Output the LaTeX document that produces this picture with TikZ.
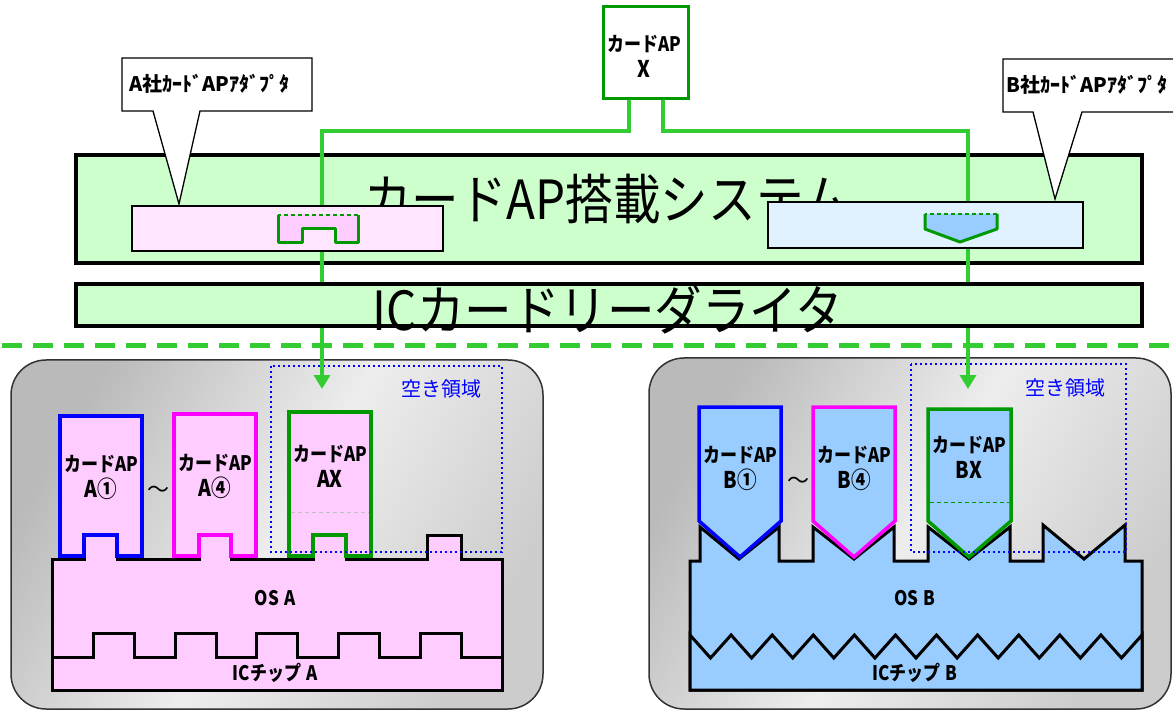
\documentclass[tikz,border=0pt]{standalone}
\usepackage{fontspec}
\newfontfamily\jp{Noto Sans CJK JP}
\newfontfamily\jpc{Noto Sans CJK JP}[FakeStretch=0.85]
\newfontfamily\jpt{Noto Sans CJK JP}[FakeStretch=0.88]
\newcommand\bigln[1]{{\fontsize{23}{26}\selectfont #1}}
\usetikzlibrary{arrows.meta}
\definecolor{sysgreen}{HTML}{CCFFCC}
\definecolor{lgreen}{HTML}{33CC33}
\definecolor{dgreen}{HTML}{009900}
\definecolor{pinkA}{HTML}{FFE5FF}
\definecolor{pinkC}{HTML}{FFCCFF}
\definecolor{blueA}{HTML}{E0F2FF}
\definecolor{blueC}{HTML}{99CCFF}
\definecolor{txtblue}{HTML}{0000FF}
\definecolor{magc}{HTML}{FF00FF}
\begin{document}
\begin{tikzpicture}[x=1pt,y=-1pt,font=\jp,
  sysbox/.style={draw=black,fill=sysgreen,line width=4pt,inner sep=0pt},
  adapter/.style={draw=black,line width=1.5pt,inner sep=0pt},
  callout/.style={draw=black,fill=white,line width=1.3pt,line join=miter},
  conn/.style={draw=lgreen,line width=4pt,-{Triangle[width=16pt,length=14pt]}},
  slotline/.style={draw=dgreen,line width=3pt,line join=round},
  slottop/.style={draw=dgreen,line width=1.2pt,dash pattern=on 4pt off 3pt},
  panel/.style={draw=black!80,line width=1.5pt,rounded corners=35pt,left color=black!27,right color=black!20,middle color=black!7,shading angle=60},
  cardline/.style={line width=3.5pt,line join=miter},
  osline/.style={draw=black,line width=3pt,line join=miter},
  boldtxt/.style={font=\jpc\bfseries\fontsize{20}{26}\selectfont,align=center,inner sep=0pt},
  bigtxt/.style={font=\jpt\fontsize{54}{54}\selectfont,inner sep=0pt},
  calltxt/.style={font=\jp\bfseries\fontsize{20}{20}\selectfont,anchor=west,inner sep=0pt},
  freetxt/.style={font=\jp\fontsize{20}{20}\selectfont,text=txtblue,inner sep=0pt},
  dotbox/.style={draw=txtblue,line width=2.4pt,dash pattern=on 2.4pt off 2.6pt}
]
\useasboundingbox (0,0) rectangle (1173,711);

% ---------- lower panels ----------
\shadedraw[panel] (11,360) rectangle (543,709);
\shadedraw[panel] (649,358) rectangle (1171,709);

% OS A and chip A
\filldraw[osline,fill=pinkC] (52,559) -- (84,559) -- (84,535) -- (117,535) -- (117,559)
  -- (199,559) -- (199,535) -- (231,535) -- (231,559) -- (313,559) -- (313,535) -- (346,535)
  -- (346,559) -- (427,559) -- (427,535) -- (461,535) -- (461,559) -- (502,559) -- (502,690)
  -- (52,690) -- cycle;
\filldraw[osline,fill=pinkC] (52,657) -- (93,657) -- (93,633) -- (134,633) -- (134,657)
  -- (175,657) -- (175,633) -- (216,633) -- (216,657) -- (256,657) -- (256,633) -- (297,633)
  -- (297,657) -- (338,657) -- (338,633) -- (379,633) -- (379,657) -- (420,657) -- (420,633)
  -- (461,633) -- (461,657) -- (502,657) -- (502,690) -- (52,690) -- cycle;
\node[boldtxt] (osA) at (275,598) {OS\hspace{5pt}A};
\node[boldtxt] (chipA) at (275,673) {ICチップ\hspace{5pt}A};

% cards A
\filldraw[cardline,draw=blue,fill=pinkC] (60,556) -- (60,416) -- (142,416) -- (142,556)
  -- (117,556) -- (117,535) -- (84,535) -- (84,556) -- cycle;
\node[boldtxt] (a1) at (101,477) {カードAP\\\bigln{A①}};
\filldraw[cardline,draw=magc,fill=pinkC] (174,556) -- (174,414) -- (256,414) -- (256,556)
  -- (231,556) -- (231,535) -- (199,535) -- (199,556) -- cycle;
\node[boldtxt] (a4) at (215,476) {カードAP\\\bigln{A④}};
\node[font=\jp\fontsize{22}{22}\selectfont,inner sep=0pt] (tildeA) at (158,492) {～};
\filldraw[cardline,draw=dgreen,fill=pinkC] (289,556) -- (289,412) -- (371,412) -- (371,556)
  -- (346,556) -- (346,535) -- (313,535) -- (313,556) -- cycle;
\draw[black!25,line width=0.8pt,dash pattern=on 4pt off 3pt] (291,512) -- (369,512);
\node[boldtxt] (ax) at (330,466) {カードAP\\\bigln{AX}};
\draw[dotbox] (271,366) rectangle (502,552);
\node[freetxt] (freeA) at (441,389) {空き領域};

% OS B and chip B
\filldraw[osline,fill=blueC] (690,561) -- (700,561) -- (700,527) -- (739,559) -- (779,527)
  -- (779,561) -- (813,561) -- (813,527) -- (854,559) -- (894,527) -- (894,561) -- (928,561)
  -- (928,527) -- (969,559) -- (1010,527) -- (1010,561) -- (1043,561) -- (1043,525)
  -- (1084,559) -- (1125,525) -- (1125,561) -- (1142,561) -- (1142,690) -- (690,690) -- cycle;
\filldraw[osline,fill=blueC] (690.0,635) -- (710.5,658) -- (731.1,635) -- (751.6,658)
  -- (772.2,635) -- (792.7,658) -- (813.3,635) -- (833.8,658) -- (854.4,635) -- (874.9,658)
  -- (895.5,635) -- (916.0,658) -- (936.5,635) -- (957.1,658) -- (977.6,635) -- (998.2,658)
  -- (1018.7,635) -- (1039.3,658) -- (1059.8,635) -- (1080.4,658) -- (1100.9,635)
  -- (1121.5,658) -- (1142.0,635) -- (1142,690) -- (690,690) -- cycle;
\node[boldtxt] (osB) at (915,598) {OS\hspace{5pt}B};
\node[boldtxt] (chipB) at (915,673) {ICチップ\hspace{5pt}B};

% cards B
\filldraw[cardline,draw=blue,fill=blueC] (699,521) -- (699,407) -- (781,407) -- (781,521)
  -- (740,557) -- cycle;
\node[boldtxt] (b1) at (740,468) {カードAP\\\bigln{B①}};
\filldraw[cardline,draw=magc,fill=blueC] (813,521) -- (813,407) -- (895,407) -- (895,521)
  -- (854,557) -- cycle;
\node[boldtxt] (b4) at (854,468) {カードAP\\\bigln{B④}};
\node[font=\jp\fontsize{22}{22}\selectfont,inner sep=0pt] (tildeB) at (798,483) {～};
\filldraw[cardline,draw=dgreen,fill=blueC] (928,521) -- (928,409) -- (1011,409) -- (1011,521)
  -- (969,557) -- cycle;
\draw[dgreen,line width=0.9pt,dash pattern=on 4pt off 3pt] (930,502) -- (1009,502);
\node[boldtxt] (bx) at (969,457) {カードAP\\\bigln{BX}};
\draw[dotbox] (911,364) rectangle (1126,552);
\node[freetxt] (freeB) at (1065,388) {空き領域};

% ---------- upper system ----------
\node[sysbox,minimum width=1066pt,minimum height=108pt] (sys) at (609,209) {};
\node[bigtxt] (systxt) at (607,199) {カードAP搭載システム};

\node[draw=dgreen,fill=white,line width=3pt,minimum width=85pt,minimum height=92pt,
  inner sep=0pt] (boxX) at (645.5,53) {};
\node[boldtxt] (boxXtxt) at (644,56) {カードAP\\\bigln{X}};

\coordinate (tipA) at (322,389);
\coordinate (tipB) at (968,389);
\draw[conn] ([xshift=-17pt]boxX.south) -- ++(0,31) -| (tipA);
\draw[conn] ([xshift=17pt]boxX.south) -- ++(0,31) -| (tipB);

% adapters
\node[adapter,fill=pinkA,minimum width=311pt,minimum height=45pt] (adA) at (287.5,228.5) {};
\node[adapter,fill=blueA,minimum width=315pt,minimum height=46pt] (adB) at (925.5,225) {};

% slots
\fill[pinkC] (278,215) -- (278,243) -- (302,243) -- (302,229) -- (335,229) -- (335,243)
  -- (358,243) -- (358,215) -- cycle;
\draw[slotline] (278,215) -- (278,243) -- (302,243) -- (302,229) -- (335,229) -- (335,243)
  -- (358,243) -- (358,215);
\draw[slottop] (358,215) -- (278,215);
\fill[blueC] (925,214) -- (925,229) -- (960,242) -- (997,229) -- (997,214) -- cycle;
\draw[slotline] (925,214) -- (925,229) -- (960,242) -- (997,229) -- (997,214);
\draw[slottop] (997,214) -- (925,214);

% reader / writer
\node[sysbox,minimum width=1066pt,minimum height=42pt] (reader) at (609,305) {};
\node[bigtxt] (readertxt) at (608,309) {ICカードリーダライタ};

% callouts
\filldraw[callout] (122,58) -- (312,58) -- (312,111) -- (200,111) -- (179,204) -- (153,111)
  -- (122,111) -- cycle;
\node[calltxt] (calA) at (129,84) {A社ｶｰﾄﾞAPｱﾀﾞﾌﾟﾀ};
\filldraw[callout] (1003,59) -- (1190,59) -- (1190,112) -- (1082,112) -- (1055,199)
  -- (1033,112) -- (1003,112) -- cycle;
\node[calltxt] (calB) at (1006,85) {B社ｶｰﾄﾞAPｱﾀﾞﾌﾟﾀ};

% divider
\draw[lgreen,line width=5pt,dash pattern=on 20pt off 11pt] (2,346) -- (1173,346);
\end{tikzpicture}
\end{document}
